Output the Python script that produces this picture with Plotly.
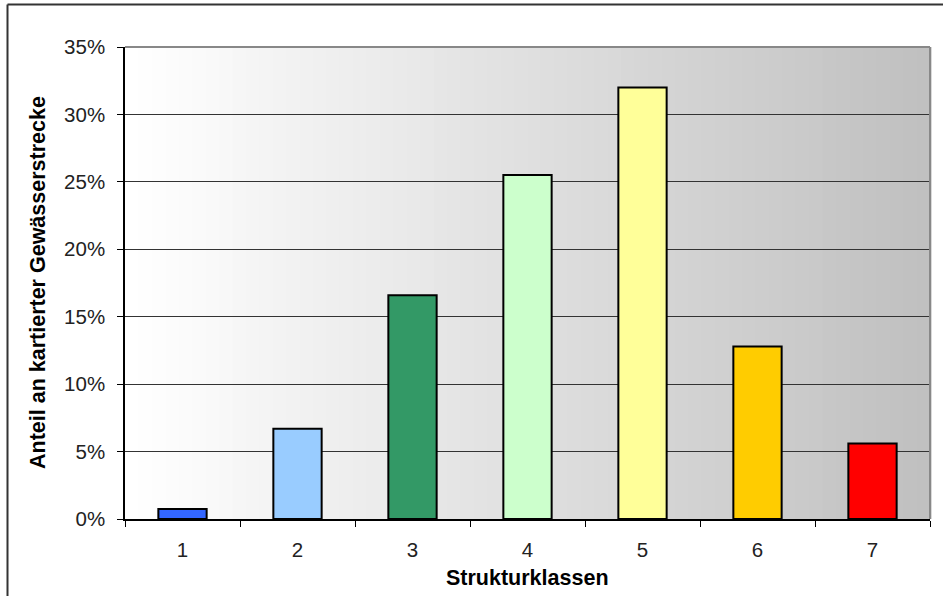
import plotly.graph_objects as go

# Strukturklassen und Anteil an kartierter Gewässerstrecke
klassen = ["1", "2", "3", "4", "5", "6", "7"]
anteil = [0.0074, 0.067, 0.166, 0.255, 0.320, 0.128, 0.056]
farben = ["#3366FF", "#99CCFF", "#339966", "#CCFFCC", "#FFFF99", "#FFCC00", "#FF0000"]

y_ticks = [0, 0.05, 0.10, 0.15, 0.20, 0.25, 0.30, 0.35]

W, H = 943, 596
ML, MR, MT, MB = 125, 13, 47, 77
PW, PH = W - ML - MR, H - MT - MB

FONT = "Liberation Sans, Arial, sans-serif"
TICK_SIZE = 20.5
TITLE_SIZE = 21.5

fig = go.Figure(
    go.Bar(
        x=klassen,
        y=anteil,
        marker=dict(color=farben, line=dict(color="#000000", width=2)),
        width=0.42,
    )
)

shapes = []
# horizontal grey gradient behind the plot area (white -> grey)
n = 60
for i in range(n):
    g = round(255 - (255 - 192) * i / (n - 1))
    shapes.append(dict(
        type="rect", xref="x domain", yref="y domain",
        x0=i / n, x1=(i + 1) / n + 0.002, y0=0, y1=1,
        fillcolor=f"rgb({g},{g},{g})", line=dict(width=0), layer="below",
    ))
# grey frame at top and right of the plot area
shapes.append(dict(type="line", xref="x domain", yref="y domain",
                   x0=0, x1=1, y0=1, y1=1, line=dict(color="#888888", width=2)))
shapes.append(dict(type="line", xref="x domain", yref="y domain",
                   x0=1, x1=1, y0=0, y1=1, line=dict(color="#888888", width=2)))
# outer chart frame (top and left edges)
bx = -(ML - 7.5) / PW
by = 1 + (MT - 4.5) / PH
shapes.append(dict(type="line", xref="paper", yref="paper",
                   x0=bx, x1=1 + (MR + 5) / PW, y0=by, y1=by,
                   line=dict(color="#333333", width=2)))
shapes.append(dict(type="line", xref="paper", yref="paper",
                   x0=bx, x1=bx, y0=by, y1=-(MB + 5) / PH,
                   line=dict(color="#333333", width=2)))

fig.update_layout(
    width=W, height=H,
    margin=dict(l=ML, r=MR, t=MT, b=MB),
    paper_bgcolor="white",
    plot_bgcolor="rgba(0,0,0,0)",
    showlegend=False,
    bargap=0.58,
    font=dict(family=FONT, size=TICK_SIZE, color="#222222"),
    shapes=shapes,
    annotations=[
        dict(text="<b>Anteil an kartierter Gewässerstrecke</b>", textangle=-90,
             xref="paper", yref="paper", x=0, y=0.5, xshift=-(ML - 38),
             xanchor="center", yanchor="middle", showarrow=False,
             font=dict(family=FONT, size=TITLE_SIZE, color="#000000")),
        dict(text="<b>Strukturklassen</b>",
             xref="paper", yref="paper", x=0.5, y=0, yshift=-59,
             xanchor="center", yanchor="middle", showarrow=False,
             font=dict(family=FONT, size=TITLE_SIZE, color="#000000")),
    ],
)

fig.update_xaxes(
    type="category",
    tickson="boundaries",
    ticks="outside", ticklen=6, tickcolor="#000000", tickwidth=1,
    showline=True, linecolor="#000000", linewidth=1.5,
    showgrid=False,
    ticklabelstandoff=12,
    tickfont=dict(family=FONT, size=TICK_SIZE, color="#222222"),
)
fig.update_yaxes(
    range=[0, 0.35],
    tickvals=y_ticks,
    tickformat=".0%",
    ticks="outside", ticklen=6, tickcolor="#000000", tickwidth=1,
    showline=True, linecolor="#000000", linewidth=1.5,
    showgrid=True, gridcolor="#333333", gridwidth=1,
    zeroline=False,
    ticklabelstandoff=8,
    tickfont=dict(family=FONT, size=TICK_SIZE, color="#222222"),
)

fig.write_html("out.html")
